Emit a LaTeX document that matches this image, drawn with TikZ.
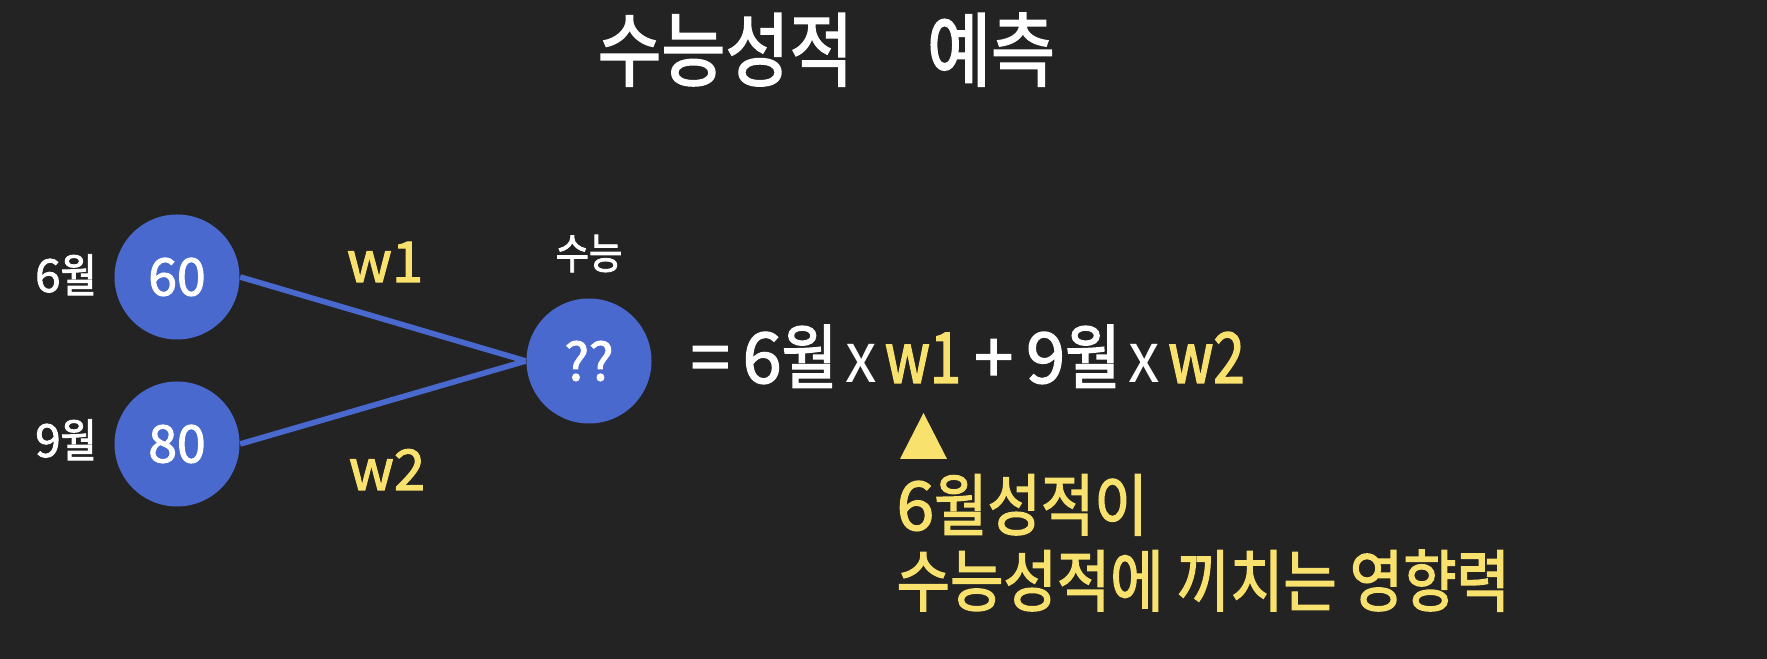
\documentclass[tikz,border=0pt]{standalone}
\usepackage{fontspec}
\setmainfont{Noto Sans CJK KR}[FakeBold=2]
\newfontfamily\kr[FakeStretch=0.86,FakeBold=2]{Noto Sans CJK KR}
\newfontfamily\wf[FakeStretch=0.8,FakeBold=2]{Noto Sans CJK KR}
\newfontfamily\thin[FakeStretch=0.9]{Noto Sans CJK KR}
\newcommand{\hg}[1]{{\kr #1}}
\newcommand{\gap}{\hspace{0.08cm}}
\newcommand{\wgap}{\hspace{0.13cm}}
\usetikzlibrary{positioning}
\definecolor{bgdark}{HTML}{232323}
\definecolor{nodeblue}{HTML}{4A69CF}
\definecolor{hlyellow}{HTML}{F8E16C}
\tikzset{
  unit/.style={circle, fill=nodeblue, minimum size=1.25cm, inner sep=0pt,
    text=white, font=\fontsize{14.7}{16}\selectfont},
  side/.style={text=white, inner sep=0pt, font=\fontsize{13}{15}\selectfont},
  wlabel/.style={text=hlyellow, inner sep=0pt, font=\fontsize{16}{18}\selectfont},
  link/.style={draw=nodeblue, line width=1.6pt},
  ttl/.style={text=white, inner sep=0pt, anchor=base, font=\fontsize{23}{26}\kr},
  note/.style={text=hlyellow, inner sep=0pt, anchor=base west, font=\fontsize{19.2}{22}\selectfont},
}
\begin{document}
\begin{tikzpicture}
  \fill[bgdark] (0,0) rectangle (17.67,-6.59);
  \useasboundingbox (0,0) rectangle (17.67,-6.59);
  % title
  \node[ttl] (ttl1) at (7.255,-0.80) {수능성적};
  \node[ttl] (ttl2) at (9.91,-0.80) {예측};
  % input and output units
  \node[unit] (m6) at (1.77,-2.77) {60};
  \node[unit] (m9) at (1.77,-4.44) {80};
  \node[unit] (sn) at (5.89,-3.61) {??};
  \node[side, anchor=base] (l6) at (0.66,-2.92) {6\hg{월}};
  \node[side, anchor=base] (l9) at (0.66,-4.57) {9\hg{월}};
  \node[side, anchor=base, font=\fontsize{12}{14}\kr] (lsn) at (5.89,-2.69) {수능};
  \draw[link] (m6.east) -- (sn.west);
  \draw[link] (m9.east) -- (sn.west);
  \node[wlabel, anchor=base] (w1) at (3.85,-2.82) {w1};
  \node[wlabel, anchor=base] (w2) at (3.87,-4.90) {w2};
  % weighted sum
  \node[text=white, inner sep=0pt, anchor=base west, font=\fontsize{20}{22}\selectfont] (eq) at (6.90,-3.83)
    {=\wgap 6\hg{월}\gap{\thin x}\gap\textcolor{hlyellow}{\wf w1}\wgap+\wgap 9\hg{월}\gap{\thin x}\gap\textcolor{hlyellow}{\wf w2}};
  \coordinate (tip) at (9.235,-4.13);
  \fill[hlyellow] (tip) -- ++(0.235,-0.46) -- ++(-0.47,0) -- cycle;
  \node[note] (eff1) at (8.96,-5.30) {6\hg{월성적이}};
  \node[note] (eff2) at (8.96,-6.06) {\hg{수능성적에 끼치는 영향력}};
\end{tikzpicture}
\end{document}
